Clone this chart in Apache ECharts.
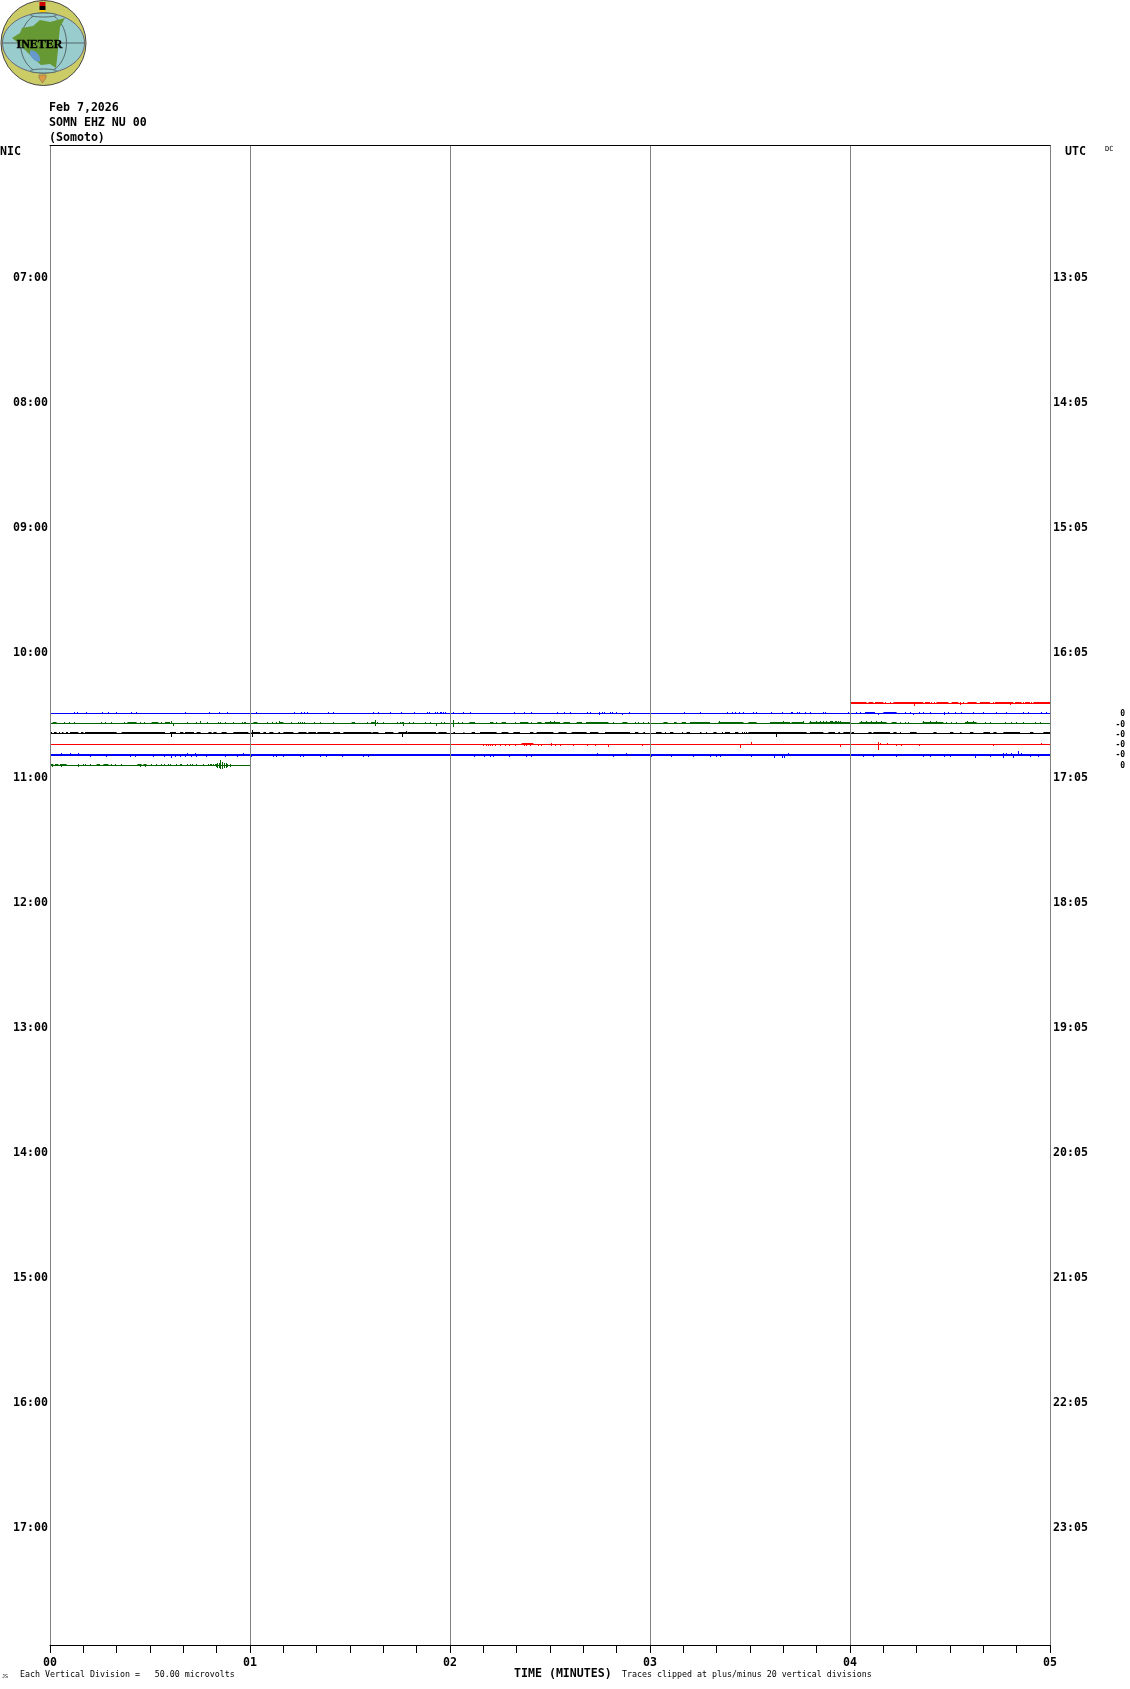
<!DOCTYPE html>
<html>
<head>
<meta charset="utf-8">
<style>html,body{margin:0;padding:0;background:#fff}#c{width:1130px;height:1689px}</style>
<script src="https://cdn.jsdelivr.net/npm/echarts@6/dist/echarts.min.js"></script>
</head>
<body>
<div id="c"></div>
<script>
// ---- axes
const minuteTickLabels = ['00','01','02','03','04','05'];
const nicHourLabels = ['','07:00','08:00','09:00','10:00','11:00','12:00','13:00','14:00','15:00','16:00','17:00',''];
const utcHourLabels = ['','13:05','14:05','15:05','16:05','17:05','18:05','19:05','20:05','21:05','22:05','23:05',''];

// ---- trace baselines: drum line number (12 lines per hour, counted from the top)
const redTopRow = 53.616, blueTopRow = 54.576, greenTopRow = 55.536, blackRow = 56.496, redLowRow = 57.552, blueLowRow = 58.56, greenLowRow = 59.568;

// ---- each trace: extent [from,to] in minutes, runs where the trace is one count thicker,
//      single one-count spikes (minutes), larger excursions [minute, counts] (+ up / - down)
const redTopExtent = [4, 5];
const redTopRuns = [[4,4.083],[4.092,4.117],[4.125,4.167],[4.217,4.367],[4.375,4.4],[4.433,4.492],[4.508,4.542],[4.587,4.633],[4.65,4.7],[4.725,4.817],[4.825,4.858],[4.875,4.9],[4.917,5]];
const redTopSpikes = [4.175,4.2,4.408,4.42,4.55,4.567,4.717,4.867,4.908];
const redTopBig = [[4.32,-2],[4.55,-1],[4.8,-1]];

const blueTopExtent = [0, 5];
const blueTopRuns = [[4.075,4.125],[4.167,4.233]];
const blueTopSpikes = [.12,.137,.18,.261,.292,.33,.405,.432,.675,.795,.847,.885,1.03,1.222,1.257,1.275,1.285,1.392,1.417,1.617,1.643,1.7,1.757,1.822,1.887,1.897,1.925,1.937,1.95,1.958,1.967,1.977,2.017,2.067,2.1,2.322,2.37,2.408,2.537,2.572,2.603,2.687,2.702,2.745,2.763,2.772,2.8,2.81,2.833,2.897,3.172,3.252,3.387,3.412,3.427,3.447,3.467,3.517,3.532,3.607,3.662,3.705,3.71,3.737,3.747,3.775,3.8,3.867,3.877,3.992,4.003,4.033,4.05,4.275,4.3,4.35,4.367,4.4,4.475,4.492,4.525,4.558,4.617,4.667,4.733,4.783,4.867,4.892,4.958,4.983];
const blueTopBig = [[2.747,-1],[2.862,-1],[4.145,-1],[4.317,-1],[4.475,-1]];

const greenTopExtent = [0, 5];
const greenTopRuns = [[.013,.033],[.387,.433],[.508,.542],[.575,.6],[1.017,1.037],[1.147,1.167],[1.508,1.525],[1.605,1.625],[1.758,1.77],[2.097,2.125],[2.2,2.217],[2.258,2.28],[2.35,2.392],[2.437,2.458],[2.475,2.55],[2.567,2.6],[2.633,2.66],[2.68,2.75],[2.747,2.792],[2.862,2.887],[3.067,3.088],[3.12,3.133],[3.158,3.18],[3.2,3.3],[3.342,3.467],[3.492,3.533],[3.6,3.7],[3.708,3.767],[3.797,4.0],[4.047,4.183],[4.208,4.233],[4.363,4.467],[4.575,4.633]];
const greenTopSpikes = [.072,.097,.122,.258,.275,.308,.37,.45,.472,.555,.608,.687,.73,.787,.842,.853,.875,.917,.962,.97,.978,1.087,1.113,1.133,1.208,1.242,1.262,1.253,1.27,1.32,1.353,1.417,1.588,1.637,1.667,1.737,1.75,1.795,1.817,1.878,1.903,1.958,1.97,2.042,2.063,2.233,2.325,2.408,2.817,2.925,2.942,2.967,2.992,4.25,4.275,4.292,4.483,4.508,4.533,4.675,4.7,4.775,4.808,4.833,4.867,4.925,4.95];
const greenTopBig = [[.617,-2],[.608,2],[.75,2],[1.15,2],[1.627,3],[1.627,-2],[1.767,-2],[1.93,-2],[2.017,3],[2.017,-3],[2.5,2],[2.52,2],[3.347,2],[3.667,2],[3.767,2],[3.8,2],[3.833,2],[3.85,2],[3.867,2],[3.883,2],[3.9,2],[3.913,2],[3.93,2],[3.95,2],[3.908,2],[3.925,2],[3.942,2],[3.953,2],[4.058,2],[4.083,2],[4.108,2],[4.133,2],[4.158,2],[4.367,2],[4.4,2],[4.433,2],[4.587,2],[4.617,2]];

const blackExtent = [0, 5];
const blackRuns = [[.005,.01],[.02,.033],[.045,.05],[.06,.067],[.1,.142],[.155,.167],[.175,.333],[.358,.575],[.6,.63],[.65,.667],[.675,.72],[.733,.753],[.792,.808],[.817,.833],[.858,.883],[.917,.992],[1.008,1.05],[1.067,1.08],[1.097,1.117],[1.142,1.15],[1.167,1.217],[1.242,1.283],[1.292,1.33],[1.337,1.4],[1.417,1.45],[1.467,1.608],[1.613,1.642],[1.675,1.717],[1.742,1.783],[1.787,1.93],[1.942,1.983],[2.017,2.025],[2.067,2.072],[2.108,2.125],[2.15,2.233],[2.258,2.292],[2.317,2.35],[2.4,2.417],[2.433,2.517],[2.542,2.583],[2.608,2.683],[2.7,2.742],[2.775,2.9],[2.925,2.942],[2.967,2.975],[3.03,3.058],[3.075,3.08],[3.1,3.117],[3.183,3.2],[3.25,3.257],[3.317,3.333],[3.375,3.4],[3.425,3.442],[3.492,3.783],[3.8,3.867],[3.892,3.925],[3.942,3.95],[3.967,4.0],[4.008,4.02],[4.092,4.108],[4.117,4.2],[4.217,4.233],[4.25,4.255],[4.3,4.333],[4.417,4.433],[4.5,4.517],[4.55,4.558],[4.6,4.617],[4.667,4.7],[4.717,4.733],[4.767,4.85],[4.9,4.917],[4.967,5]];
const blackSpikes = [.08,.088,3.0,3.16,3.28,3.36,3.46,3.47,3.48];
const blackBig = [[.608,-3],[1.013,3],[1.013,-3],[1.763,-3],[1.783,2],[3.63,-3]];

const redLowExtent = [0, 5];
const redLowRuns = [[2.358,2.417]];
const redLowSpikes = [2.505,3.505,4.15,4.187,4.955];
const redLowBig = [[2.167,-1],[2.18,-1],[2.19,-1],[2.2,-1],[2.21,-1],[2.225,-1],[2.25,-1],[2.275,-1],[2.3,-1],[2.325,-1],[2.37,-1],[2.385,-1],[2.4,-1],[2.442,-1],[2.458,-1],[2.508,-1],[2.525,-1],[2.553,-1],[2.617,-1],[2.687,-1],[2.725,-1],[2.792,-2],[2.962,-1],[3.45,-3],[3.505,2],[3.95,-2],[4.142,2],[4.142,-5],[4.233,-1],[4.258,-1],[4.35,-1],[4.717,-1]];

const blueLowExtent = [0, 5];
const blueLowRuns = [];
const blueLowSpikes = [.058,.1,.145,.687,.725,.967,2.738,2.737,2.88,3.692,4.767,4.783,4.808,4.858];
const blueLowBig = [[.2,-1],[.283,-1],[.4,-1],[.425,-1],[.517,-1],[.575,-1],[.608,-2],[.625,-1],[.65,-1],[.675,-1],[.705,-1],[.733,-1],[.783,-1],[.875,-1],[.937,-1],[1.008,-1],[1.117,-1],[1.133,-1],[1.167,-1],[1.267,-1],[1.255,-1],[1.35,-1],[1.383,-1],[1.462,-1],[1.567,-1],[1.592,-1],[2.12,-1],[2.175,-1],[2.2,-1],[2.217,-1],[2.3,-1],[2.383,-1],[2.408,-1],[2.817,-1],[3.005,-1],[3.108,-1],[3.217,-1],[3.303,-1],[3.333,-1],[3.353,-1],[3.508,-1],[3.622,-2],[3.662,-2],[3.672,-2],[4.067,-1],[4.117,-1],[4.233,-1],[4.367,-1],[4.4,-1],[4.475,-1],[4.5,-1],[4.625,-2],[4.7,-1],[4.767,-2],[4.817,-2],[4.9,-1],[4.942,-1],[4.842,3]];

const greenLowExtent = [0, 1];
const greenLowRuns = [[.005,.017],[.025,.042],[.05,.083],[.233,.25],[.267,.292],[.437,.458],[.467,.483]];
const greenLowSpikes = [.142,.167,.175,.2,.308,.325,.358,.508,.533,.558,.575,.592,.6,.633,.65,.657,.687,.7,.713,.733,.767,.792,.8,.808,.817,.825];
const greenLowBig = [[.013,-1],[.058,-1],[.142,-1],[.45,-1],[.475,-1],[.83,1],[.83,-1],[.838,2],[.838,-2],[.847,2],[.847,-2],[.853,5],[.853,-3],[.863,3],[.863,-3],[.872,2],[.872,-2],[.88,2],[.88,-2],[.888,1],[.888,-1],[.9,1],[.9,-1]];

// ---- colours
const traceBlue = '#0000ff', traceGreen = '#006600', traceRed = '#ff0000', traceBlack = '#000000';

// ---- building series from the arrays above
const COUNT = 0.096;                             // drum lines per vertical pixel count
const q = t => Math.min(Math.floor(t * 200), 999) / 200 + 0.0025;   // trace resolution

function traceSeries(row, color, extent, runs, spikes, big, baseWidth) {
  const common = { type: 'line', symbol: 'none', showSymbol: false, silent: true, z: 2,
                   animation: false, connectNulls: false, clip: true };
  const base = { ...common, data: [[extent[0], row], [extent[1], row]],
                 lineStyle: { color, width: baseWidth, cap: 'butt' } };
  const runData = [];
  runs.forEach(r => { runData.push([r[0], row - COUNT], [r[1], row - COUNT], [r[1], null]); });
  const spikeData = [];
  const addSpike = (t, n) => {
    const start = baseWidth > 1 ? (n > 0 ? row - COUNT * 0.5 : row + COUNT * 0.5) : row;
    spikeData.push([q(t), start], [q(t), row - (n + Math.sign(n) * (baseWidth > 1 ? 1 : 0.5)) * COUNT], [q(t), null]);
  };
  spikes.forEach(t => addSpike(t, 1));
  big.forEach(b => addSpike(b[0], b[1]));
  const thin = { color, width: 1, cap: 'butt' };
  return [base,
          { ...common, data: runData, lineStyle: thin },
          { ...common, data: spikeData, lineStyle: thin }];
}

const series = [
  ...traceSeries(redTopRow, traceRed, redTopExtent, redTopRuns, redTopSpikes, redTopBig, 1),
  ...traceSeries(blueTopRow, traceBlue, blueTopExtent, blueTopRuns, blueTopSpikes, blueTopBig, 1),
  ...traceSeries(greenTopRow, traceGreen, greenTopExtent, greenTopRuns, greenTopSpikes, greenTopBig, 1),
  ...traceSeries(blackRow, traceBlack, blackExtent, blackRuns, blackSpikes, blackBig, 1),
  ...traceSeries(redLowRow, traceRed, redLowExtent, redLowRuns, redLowSpikes, redLowBig, 1),
  ...traceSeries(blueLowRow, traceBlue, blueLowExtent, blueLowRuns, blueLowSpikes, blueLowBig, 2),
  ...traceSeries(greenLowRow, traceGreen, greenLowExtent, greenLowRuns, greenLowSpikes, greenLowBig, 1)
];

const MONO = '"DejaVu Sans Mono", monospace';
const txt = (x, y, text, size, weight, extra) => ({
  type: 'text', x, y, silent: true, z: 10,
  style: Object.assign({ text, fill: '#000', font: (weight || 'normal') + ' ' + size + 'px ' + MONO, textVerticalAlign: 'middle', verticalAlign: 'middle' }, extra || {})
});

// ---- logo shapes
const logoMap = [[12,38],[20,33],[22,28],[33,26],[40,20],[50,22],[65,18],[60,27],[59,37],[58,50],[56,68],[50,64],[41,65],[33,58],[25,50],[17,42]];
const gray = '#55666a';
const logo = [
  { type: 'circle', shape: { cx: 43.5, cy: 43, r: 42.5 }, style: { fill: '#cccc66', stroke: '#444', lineWidth: 1 }, silent: true, z: 10 },
  { type: 'ellipse', shape: { cx: 43.5, cy: 43, rx: 41, ry: 30 }, style: { fill: '#99cccc', stroke: '#667', lineWidth: 1 }, silent: true, z: 10 },
  { type: 'ellipse', shape: { cx: 43.5, cy: 43, rx: 23, ry: 30 }, style: { fill: 'none', stroke: gray, lineWidth: 1 }, silent: true, z: 10 },
  { type: 'line', shape: { x1: 3, y1: 43, x2: 84, y2: 43 }, style: { stroke: gray, lineWidth: 1 }, silent: true, z: 10 },
  { type: 'polygon', shape: { points: logoMap }, style: { fill: '#669933' }, silent: true, z: 11 },
  { type: 'ellipse', shape: { cx: 35, cy: 56, rx: 3.5, ry: 7 }, rotation: 0.7, originX: 35, originY: 56, style: { fill: '#6699cc' }, silent: true, z: 11 },
  { type: 'ellipse', shape: { cx: 43.5, cy: 15, rx: 13, ry: 2 }, style: { fill: '#99cccc', stroke: gray, lineWidth: 1 }, silent: true, z: 12 },
  { type: 'ellipse', shape: { cx: 43.5, cy: 71, rx: 13, ry: 2 }, style: { fill: '#99cccc', stroke: gray, lineWidth: 1 }, silent: true, z: 12 },
  { type: 'rect', shape: { x: 39.5, y: 2, width: 6, height: 4 }, style: { fill: '#cc0000' }, silent: true, z: 13 },
  { type: 'rect', shape: { x: 39.5, y: 6, width: 6, height: 4 }, style: { fill: '#000' }, silent: true, z: 13 },
  { type: 'rect', shape: { x: 39.5, y: 10, width: 6, height: 2 }, style: { fill: '#ffcc00' }, silent: true, z: 13 },
  { type: 'polygon', shape: { points: [[39,75],[46,75],[46,78],[42.5,83],[39,78]] }, style: { fill: '#dd9944', stroke: '#665', lineWidth: 0.5 }, silent: true, z: 13 },
  { type: 'text', x: 39.5, y: 44.5, silent: true, z: 14, style: { text: 'INETER', fill: '#000', stroke: '#000', lineWidth: 0.4, font: 'bold 12px "Liberation Serif", serif', align: 'center', verticalAlign: 'middle', textAlign: 'center', textVerticalAlign: 'middle' } }
];

const graphics = [
  ...logo,
  txt(49, 107.5, 'Feb 7,2026', 11.6, 'bold'),
  txt(49, 122.5, 'SOMN EHZ NU 00', 11.6, 'bold'),
  txt(49, 137.5, '(Somoto)', 11.6, 'bold'),
  txt(0, 152, 'NIC', 11.6, 'bold'),
  txt(1065, 152, 'UTC', 11.6, 'bold'),
  txt(1105, 149, 'DC', 7),
  txt(1115.5, 714, ' 0', 8, 'bold'),
  txt(1115.5, 724.5, '-0', 8, 'bold'),
  txt(1115.5, 735, '-0', 8, 'bold'),
  txt(1115.5, 745, '-0', 8, 'bold'),
  txt(1115.5, 755, '-0', 8, 'bold'),
  txt(1115.5, 766, ' 0', 8, 'bold'),
  txt(2, 1677, 'JS', 5),
  txt(20, 1675, 'Each Vertical Division =   50.00 microvolts', 8.3),
  txt(514, 1674, 'TIME (MINUTES)', 11.6, 'bold'),
  txt(622, 1675, 'Traces clipped at plus/minus 20 vertical divisions', 8.3)
];

const labelFont = { fontFamily: MONO, fontWeight: 'bold', fontSize: 11.6, color: '#000' };

const chart = echarts.init(document.getElementById('c'), null, { renderer: 'canvas' });
chart.setOption({
  animation: false,
  backgroundColor: '#fff',
  grid: { left: 50, top: 145, width: 1000, height: 1500, containLabel: false },
  tooltip: { show: false },
  legend: { show: false },
  xAxis: [
    { type: 'value', position: 'bottom', min: 0, max: 5, interval: 1, z: 5,
      axisLine: { show: true, onZero: false, lineStyle: { color: '#000', width: 1 } },
      axisTick: { show: true, length: 8, inside: false, lineStyle: { color: '#000', width: 1 } },
      minorTick: { show: true, splitNumber: 6, length: 8, lineStyle: { color: '#000', width: 1 } },
      splitLine: { show: true, lineStyle: { color: '#808080', width: 1 } },
      axisLabel: { ...labelFont, margin: 12, formatter: v => minuteTickLabels[v], showMinLabel: true, showMaxLabel: true } },
    { type: 'value', position: 'top', min: 0, max: 5, interval: 1, z: 5,
      axisLine: { show: true, onZero: false, lineStyle: { color: '#000', width: 1 } },
      axisTick: { show: false }, axisLabel: { show: false }, splitLine: { show: false } }
  ],
  yAxis: [
    { type: 'value', position: 'left', inverse: true, min: 0, max: 144, interval: 12,
      axisLine: { show: false }, axisTick: { show: false }, splitLine: { show: false },
      axisLabel: { ...labelFont, margin: 2, align: 'right', verticalAlign: 'top', lineHeight: 16, showMinLabel: true, showMaxLabel: true, formatter: v => nicHourLabels[v / 12] } },
    { type: 'value', position: 'right', inverse: true, min: 0, max: 144, interval: 12,
      axisLine: { show: false }, axisTick: { show: false }, splitLine: { show: false },
      axisLabel: { ...labelFont, margin: 3, align: 'left', verticalAlign: 'top', lineHeight: 16, showMinLabel: true, showMaxLabel: true, formatter: v => utcHourLabels[v / 12] } }
  ],
  series,
  graphic: { elements: graphics }
});
</script>
</body>
</html>
